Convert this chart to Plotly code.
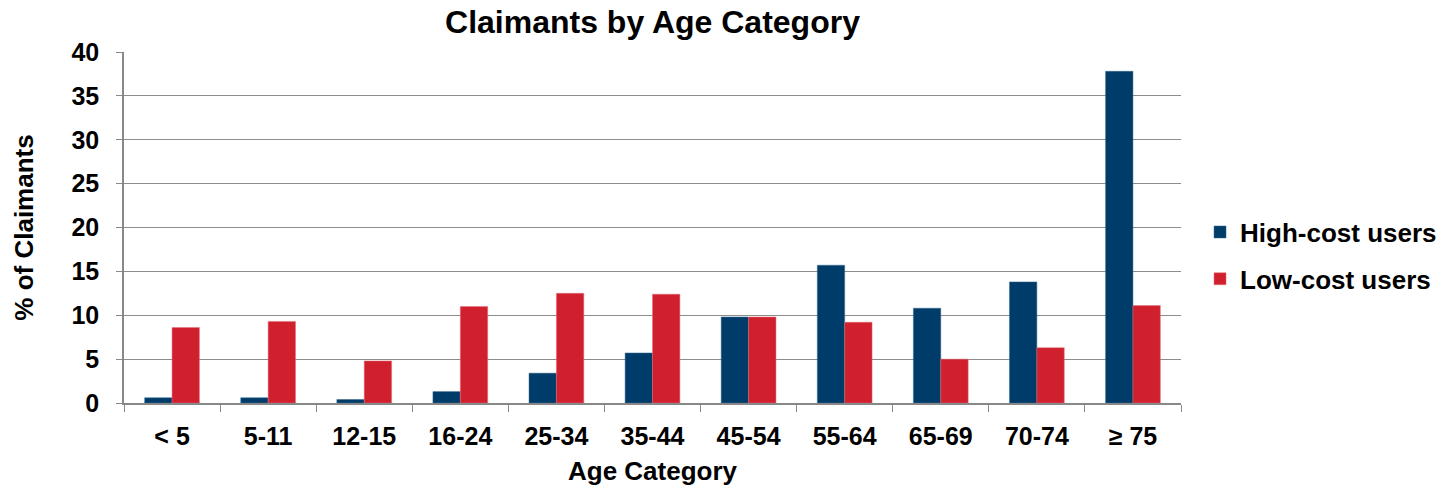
import plotly.graph_objects as go

categories = ["< 5", "5-11", "12-15", "16-24", "25-34", "35-44", "45-54", "55-64", "65-69", "70-74", "≥ 75"]
high_cost = [0.6, 0.6, 0.4, 1.3, 3.4, 5.7, 9.8, 15.7, 10.8, 13.8, 37.8]
low_cost = [8.6, 9.3, 4.8, 11.0, 12.5, 12.4, 9.8, 9.2, 5.0, 6.3, 11.1]
y_ticks = [0, 5, 10, 15, 20, 25, 30, 35, 40]

FONT = "Liberation Sans, Arial, sans-serif"

fig = go.Figure()
fig.add_trace(go.Bar(x=categories, y=high_cost, name="High-cost users",
                     marker=dict(color="#003C69", line=dict(color="#3a6a90", width=0.5)),
                     legendgroup="a"))
fig.add_trace(go.Bar(x=categories, y=low_cost, name="Low-cost users",
                     marker=dict(color="#D0202E", line=dict(color="#e07078", width=0.5)),
                     legendgroup="b"))

fig.update_layout(
    width=1447, height=487,
    margin=dict(l=124, r=266, t=52, b=84, autoexpand=False),
    paper_bgcolor="white", plot_bgcolor="white",
    barmode="group", bargap=0.43, bargroupgap=0,
    font=dict(family=FONT, color="black", weight="bold"),
    title=dict(text="Claimants by Age Category", x=0.5, xref="paper", xanchor="center",
               y=0.955, yanchor="middle", font=dict(size=32, family=FONT, weight="bold")),
    legend=dict(x=1.018, xref="paper", y=0.42, xanchor="left", yanchor="middle",
                font=dict(size=26, family=FONT, weight="bold"), traceorder="grouped",
                tracegroupgap=10, itemwidth=30, bgcolor="rgba(0,0,0,0)"),
    showlegend=True,
)
fig.update_xaxes(
    type="category", tickson="boundaries", ticks="outside", ticklen=7,
    tickcolor="#888888", showline=True, linecolor="#888888", linewidth=1.5,
    tickfont=dict(size=25, family=FONT, weight="bold"), automargin=False,
    ticklabelstandoff=10,
    title=dict(text="Age Category", font=dict(size=26, family=FONT, weight="bold"), standoff=13),
)
fig.update_yaxes(
    range=[0, 40], tickvals=y_ticks, ticks="outside", ticklen=6, tickcolor="#888888",
    showline=True, linecolor="#888888", linewidth=1.5, ticklabelstandoff=12,
    showgrid=True, gridcolor="#8c8c8c", gridwidth=1.2, zeroline=False,
    tickfont=dict(size=25, family=FONT, weight="bold"), automargin=False,
    title=dict(text="% of Claimants", font=dict(size=26, family=FONT, weight="bold"), standoff=30),
)

fig.write_html("out.html")
